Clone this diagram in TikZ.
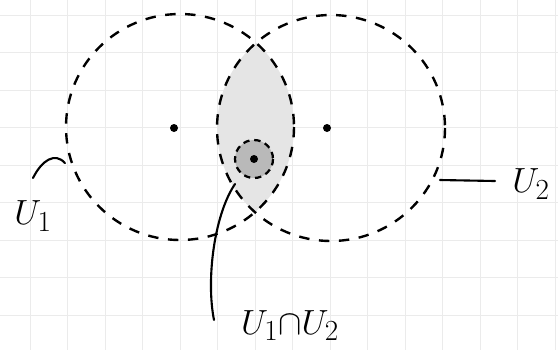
\documentclass[tikz,border=0pt]{standalone}
\usetikzlibrary{positioning}
\tikzset{
  nbhd/.style={dash pattern=on 2.6mm off 2.4mm, line width=1.7pt},
  small/.style={dash pattern=on 1.6mm off 1.2mm, line width=1.6pt},
  lead/.style={line width=1.5pt, line cap=round},
  lab/.style={font=\fontsize{32}{38}\selectfont, inner sep=0pt},
}
\begin{document}
\begin{tikzpicture}[x=0.25mm, y=-0.25mm]
	\useasboundingbox (0,0) rectangle (558,350);
	\fill[white] (0,0) rectangle (558,350);
	% squared paper
	\foreach \i in {0,...,14}
		\draw[gray!16, line width=0.5pt] (30+37.5*\i,0) -- (30+37.5*\i,350);
	\foreach \j in {0,...,9}
		\draw[gray!16, line width=0.5pt] (0,15+37.5*\j) -- (558,15+37.5*\j);
	\coordinate (c1) at (180,127);
	\coordinate (c2) at (331,128);
	\coordinate (p) at (254,159);
	% intersection
	\begin{scope}
		\clip (c1) ellipse [x radius=114, y radius=113];
		\fill[gray!20] (c2) ellipse [x radius=114, y radius=113];
	\end{scope}
	\fill[gray!55] (p) circle [radius=19];
	\draw[nbhd] (c1) ellipse [x radius=114, y radius=113];
	\draw[nbhd] (c2) ellipse [x radius=114, y radius=113];
	\draw[small] (p) circle [radius=19];
	\fill (174,128) circle [radius=4];
	\fill (327,128) circle [radius=4];
	\fill (p) circle [radius=4];
	% labels
	\node[lab] (u1) at (33,216) {$U_1$};
	\node[lab] (u2) at (531,184) {$U_2$};
	\node[lab, anchor=base] (u12) at (290,334) {$U_1{\cap}U_2$};
	\coordinate (a1) at (33,178);
	\coordinate (b1) at (65,163);
	\coordinate (a2) at (440,180);
	\coordinate (b2) at (495,181);
	\coordinate (a3) at (235,184);
	\coordinate (b3) at (214,320);
	\draw[lead] (a1) .. controls (42,160) and (55,152) .. (b1);
	\draw[lead] (a2) -- (b2);
	\draw[lead] (a3) .. controls (214,215) and (206,280) .. (b3);
\end{tikzpicture}
\end{document}
